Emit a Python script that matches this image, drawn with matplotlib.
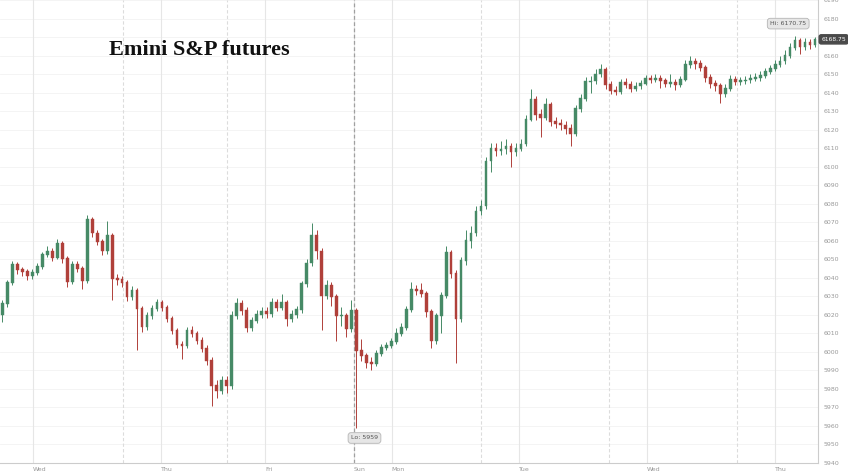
import matplotlib.pyplot as plt
import numpy as np

# Emini S&P futures candles (one candle per slot)
first_open = 6020.0

closes = [
    6026.0, 6037.5, 6047.0, 6044.5, 6043.25, 6041.0, 6042.75, 6046.0, 6052.5, 6054.5,
    6050.75, 6058.5, 6050.25, 6038.0, 6047.0, 6045.0, 6038.5, 6071.75, 6064.25, 6059.5,
    6054.5, 6062.75, 6039.5, 6039.0, 6037.5, 6029.75, 6033.0, 6023.5, 6013.75, 6019.5,
    6023.5, 6026.5, 6024.0, 6018.0, 6011.5, 6004.0, 6003.5, 6011.5, 6010.0, 6006.25,
    6002.0, 5995.5, 5982.0, 5979.25, 5984.5, 5982.0, 6019.5, 6026.0, 6022.25, 6013.25,
    6017.0, 6020.25, 6021.75, 6020.75, 6027.0, 6024.0, 6026.5, 6018.0, 6020.25, 6022.75,
    6036.75, 6048.0, 6062.75, 6054.5, 6030.5, 6035.75, 6029.75, 6019.5, 6019.75, 6012.5,
    6022.25, 6000.75, 5998.0, 5994.25, 5993.75, 5999.25, 6002.5, 6003.5, 6005.5, 6010.0,
    6013.25, 6022.75, 6033.5, 6033.0, 6031.5, 6021.75, 6006.25, 6019.5, 6030.5, 6053.5,
    6042.25, 6018.0, 6049.25, 6060.0, 6064.25, 6076.0, 6078.75, 6103.0, 6110.0, 6108.5,
    6109.5, 6111.0, 6108.0, 6110.0, 6112.25, 6125.5, 6136.5, 6128.25, 6126.75, 6133.75,
    6124.5, 6123.5, 6122.5, 6120.75, 6118.0, 6131.5, 6137.0, 6146.0, 6146.25, 6150.0,
    6152.5, 6144.5, 6141.25, 6140.75, 6145.5, 6144.5, 6142.25, 6143.5, 6145.0, 6147.75,
    6147.25, 6147.75, 6146.5, 6145.0, 6145.5, 6144.5, 6147.25, 6155.25, 6157.0, 6155.75,
    6153.5, 6148.25, 6145.0, 6144.0, 6139.5, 6142.25, 6147.25, 6146.0, 6146.5, 6146.75,
    6147.75, 6148.25, 6149.25, 6151.5, 6153.0, 6155.25, 6157.0, 6160.0, 6164.5, 6168.25,
    6165.0, 6167.0, 6166.0, 6168.75,
]

highs = [
    6028, 6039, 6049, 6048.5, 6046, 6045, 6044.5, 6048, 6054, 6057,
    6056, 6061, 6060, 6052, 6049, 6049, 6046.5, 6074, 6073, 6066,
    6061, 6070.5, 6064, 6042, 6041, 6039, 6035.5, 6034.5, 6025, 6021.5,
    6025.5, 6028.5, 6028, 6025.5, 6019.5, 6013, 6006, 6013.5, 6014, 6011.5,
    6008, 6003.5, 5997, 5985, 5987, 5987, 6022, 6029, 6028, 6024,
    6019, 6022.5, 6024, 6024, 6029, 6028.5, 6031, 6028, 6022.5, 6025,
    6038.5, 6050, 6069.5, 6066, 6056, 6039, 6038, 6031, 6024, 6021,
    6028, 6023.5, 6007, 5999.5, 5997, 6001, 6004, 6005.5, 6007.5, 6013,
    6015.5, 6025, 6038, 6036, 6037, 6033, 6023, 6021, 6032.5, 6057,
    6055, 6044, 6051, 6066, 6068, 6078.5, 6082, 6105, 6113, 6113,
    6114, 6115, 6113, 6113, 6115, 6128, 6142, 6138, 6131, 6137,
    6135, 6127, 6126, 6124.5, 6123, 6133.5, 6139.5, 6148.5, 6149, 6152.5,
    6155.5, 6154, 6146, 6143.5, 6147.5, 6148, 6146, 6145.5, 6147, 6149.5,
    6149.5, 6150, 6149.5, 6148, 6150, 6147.5, 6149, 6157.5, 6159.5, 6158.5,
    6157.5, 6155, 6150, 6147, 6145, 6144.5, 6149.5, 6149, 6148.5, 6149,
    6150, 6150.5, 6151.5, 6153.5, 6155, 6157.5, 6159.5, 6163, 6167, 6170.75,
    6169.5, 6169.5, 6169, 6170,
]

lows = [
    6016, 6024, 6036, 6042, 6041, 6039, 6039.5, 6041.5, 6045, 6051,
    6049, 6050, 6048, 6035, 6036.5, 6043, 6034, 6037, 6062, 6057.5,
    6052.5, 6053, 6028, 6036, 6035, 6027.5, 6028, 6001, 6011, 6012,
    6018, 6022, 6022, 6016, 6009.5, 6002, 5996, 6002, 6008, 6004,
    6000, 5993, 5971, 5975, 5977, 5978, 5980, 6018, 6020, 6011,
    6011.5, 6015.5, 6018.5, 6018.5, 6019, 6022, 6022.5, 6014, 6016, 6018.5,
    6021, 6035, 6046.5, 6050, 6012, 6028.5, 6025, 6006, 6014, 6008,
    6011, 5959, 5995, 5991.5, 5990, 5992.5, 5998, 6001, 6002, 6004,
    6008.5, 6012, 6021.5, 6030.5, 6029.5, 6019, 6002, 6004.5, 6010, 6029,
    6040, 5994, 6016, 6047, 6056, 6062.5, 6074, 6077, 6097, 6106,
    6106.5, 6107, 6100, 6106, 6108.5, 6111, 6124.5, 6125, 6116, 6125,
    6122, 6121, 6120, 6117.5, 6111, 6116.5, 6129.5, 6135.5, 6140, 6144.5,
    6148.5, 6142, 6139, 6138.5, 6139.5, 6142.5, 6140.5, 6141, 6142, 6144,
    6145, 6145.5, 6142.5, 6143, 6143, 6141.5, 6143, 6146, 6153.5, 6153,
    6151.5, 6145.5, 6142.5, 6141, 6134.5, 6137.5, 6141, 6144, 6144, 6144.5,
    6145, 6146, 6146.5, 6148, 6150, 6151.5, 6154, 6155.5, 6158.5, 6163,
    6161, 6163, 6163.5, 6164.5,
]

# day boundaries (candle slot) and their labels
day_pos = [6.1, 31.7, 52.7, 70.5, 78.1, 103.7, 129.3, 154.9]
day_labels = ['Wed', 'Thu', 'Fri', 'Sun', 'Mon', 'Tue', 'Wed', 'Thu']
# session breaks
break_pos = [24.1, 45.1, 95.9, 121.7, 147.3]
sunday_open = 70.5

hi_value = 6170.75
lo_value = 5959
last_price = 6168.75

y_ticks = list(range(5940, 6191, 10))

opens = [first_open] + closes[:-1]
x = np.arange(len(closes))
o = np.array(opens)
c = np.array(closes)
up = c >= o

up_col = '#468a66'
down_col = '#b0403a'
colors = np.where(up, up_col, down_col)

fig = plt.figure(figsize=(8.48, 4.76), dpi=100)
ax = fig.add_axes([0, 13 / 476, 818 / 848, 463 / 476])

# grid
for yt in y_ticks:
    ax.axhline(yt, color='#f3f3f3', lw=0.6, zorder=0)
for d in day_pos:
    ax.axvline(d, color='#e6e6e6', lw=0.8, zorder=0)
for b in break_pos:
    ax.axvline(b, color='#dcdcdc', lw=0.8, ls=(0, (3, 2)), zorder=0)
ax.axvline(sunday_open, color='#a0a0a0', lw=0.9, ls=(0, (3, 2)), zorder=0)

# candles
ax.vlines(x, lows, highs, colors=colors, lw=0.7, zorder=2)
ax.bar(x, np.abs(c - o) + 0.4, bottom=np.minimum(o, c) - 0.2, width=0.55,
       color=colors, edgecolor=colors, lw=0.3, zorder=3)

ax.set_xlim(-0.5, 163.6)
ax.set_ylim(5940, 6189.15)

# axes look
for s in ['top', 'left']:
    ax.spines[s].set_visible(False)
ax.spines['right'].set_color('#cccccc')
ax.spines['bottom'].set_color('#cccccc')
ax.spines['right'].set_linewidth(0.8)
ax.spines['bottom'].set_linewidth(0.8)

# the 6170 label sits under the last price tag
ax.yaxis.tick_right()
ax.set_yticks(y_ticks)
ax.set_yticklabels(['' if v == 6170 else str(v) for v in y_ticks])
ax.tick_params(axis='y', length=0, pad=4, labelsize=4.5, labelcolor='#999999')

ax.set_xticks(day_pos)
ax.set_xticklabels(day_labels, ha='left')
ax.tick_params(axis='x', length=0, pad=3, labelsize=4.5, labelcolor='#999999')

# title
ax.text(21.3, 6163, 'Emini S&P futures', fontsize=16, fontweight='bold',
        family='Liberation Serif', color='#111111', va='center', ha='left')

# hi / lo labels
box = dict(boxstyle='round,pad=0.45', fc='#e6e6e6', ec='#b5b5b5', lw=0.6)
ax.text(154.0, hi_value + 6.5, 'Hi: ' + f'{hi_value:.2f}', fontsize=4.5, color='#555555',
        ha='left', va='center', bbox=box, zorder=5)
ax.text(69.9, lo_value - 5.5, 'Lo: ' + str(lo_value), fontsize=4.5, color='#555555',
        ha='left', va='center', bbox=box, zorder=5)

# last price tag on the axis
ax.text(1.004, last_price, f'{last_price:.2f}', transform=ax.get_yaxis_transform(),
        fontsize=4.3, color='white', ha='left', va='center', zorder=6,
        bbox=dict(boxstyle='round,pad=0.35', fc='#4a4a4a', ec='#4a4a4a'),
        clip_on=False)

fig.savefig('out.png', dpi=100)
